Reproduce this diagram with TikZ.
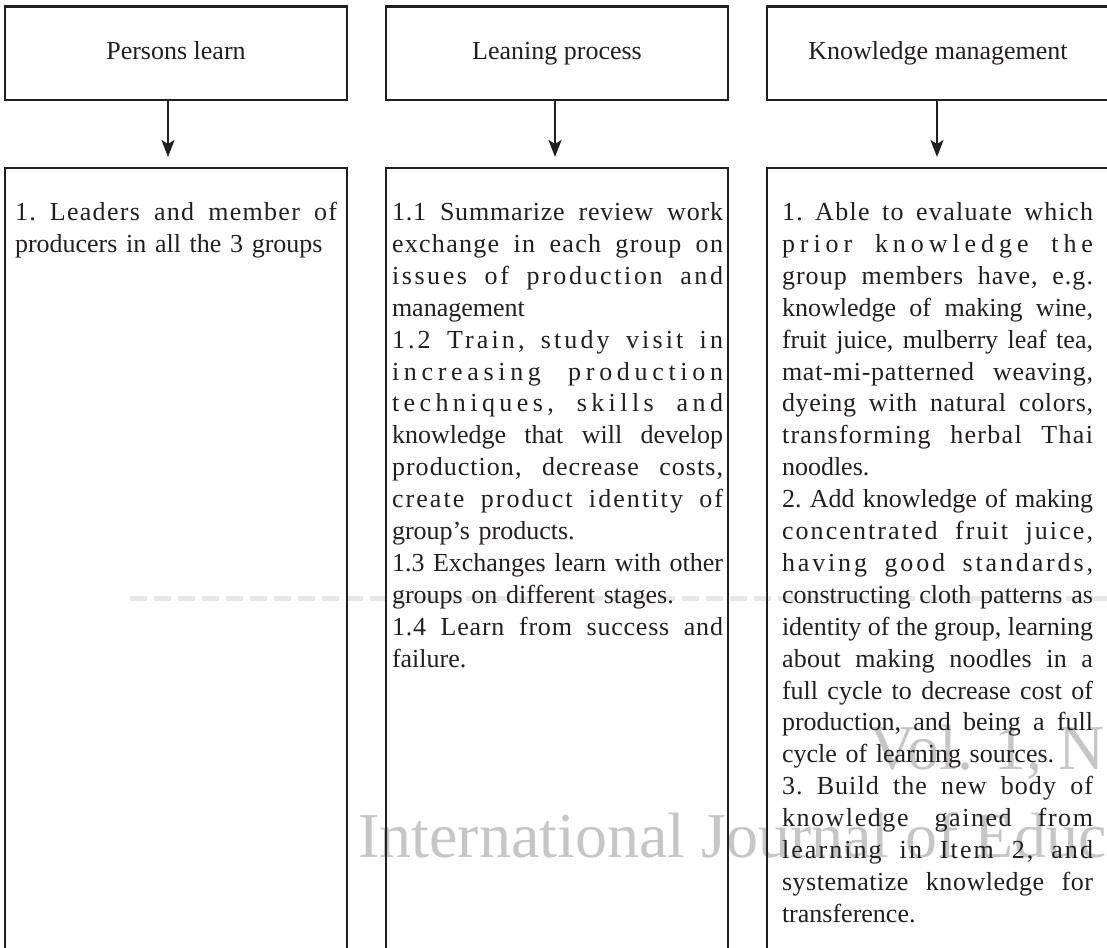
\documentclass[tikz,border=0pt]{standalone}
\usepackage{fontspec}
\setmainfont{Liberation Serif}
\usetikzlibrary{arrows.meta}
\definecolor{ink}{HTML}{231F20}
\definecolor{wm}{HTML}{C6C6C6}
\definecolor{wmline}{HTML}{E6E6E6}
\newcommand\jl[2]{\leavevmode\hbox to \hsize{\addfontfeature{LetterSpace=#1}\spaceskip=.25em plus 10em minus .05em\relax #2}}
\tikzset{
  frame/.style={draw=ink, line width=2.6pt, rectangle, inner sep=0pt, outer sep=0pt, minimum width=342pt},
  hdr/.style={frame, minimum height=93.5pt, font=\fontsize{26}{31.9}\selectfont, text=ink, text height=18pt, text depth=6pt},
  col/.style={frame, minimum height=822pt},
  txt/.style={inner sep=0pt, outer sep=0pt, anchor=north west, align=left, text=ink, font=\fontsize{26}{31.9}\selectfont\frenchspacing},
  arr/.style={draw=ink, line width=2.5pt, -{Stealth[length=17pt, width=13pt, inset=4pt]}, shorten >=11pt},
  wmark/.style={inner sep=0pt, anchor=base west, text=wm, font=\fontsize{64}{70}\selectfont},
}
\begin{document}
\begin{tikzpicture}[x=1pt, y=-1pt]
\useasboundingbox (0,0) rectangle (1107,947);
\clip (0,0) rectangle (1107,947);
\fill[white] (0,0) rectangle (1107,947);
% faint watermark marks
\draw[wmline, line width=5pt, dash pattern=on 17pt off 7pt] (130,598) -- (1107,598);
\node[wmark] (wm1) at (358,857) {International Journal of Educ};
\node[wmark] (wm2) at (869,769) {Vol. 1, N};
% header boxes
\node[hdr] (h1) at (176,53.25) {Persons learn};
\node[hdr] (h2) at (557,53.25) {Leaning process};
\node[hdr] (h3) at (938,53.25) {Knowledge management};
% column boxes
\node[col] (b1) at (176,579) {};
\node[col] (b2) at (557,579) {};
\node[col] (b3) at (938,579) {};
% arrows
\draw[arr] ([xshift=-8pt]h1.south) -- ([xshift=-8pt]b1.north);
\draw[arr] ([xshift=-2pt]h2.south) -- ([xshift=-2pt]b2.north);
\draw[arr] ([xshift=-1pt]h3.south) -- ([xshift=-1pt]b3.north);
% column texts
\node[txt, text width=322pt] (t1) at (15,200.5) {\parindent0pt%
\rule{0pt}{20pt}\jl{5}{1. Leaders and member of}\\
producers in all the 3 groups};
\node[txt, text width=331pt] (t2) at (392,200.5) {\parindent0pt%
\rule{0pt}{20pt}\jl{3}{1.1 Summarize review work}\\
\jl{5}{exchange in each group on}\\
\jl{10}{issues of production and}\\
management\\
\jl{12}{1.2 Train, study visit in}\\
\jl{18}{increasing production}\\
\jl{17}{techniques, skills and}\\
\jl{0}{knowledge that will develop}\\
\jl{4}{production, decrease costs,}\\
\jl{8}{create product identity of}\\
group’s products.\\
\jl{0}{1.3 Exchanges learn with other}\\
groups on different stages.\\
\jl{3}{1.4 Learn from success and}\\
failure.};
\node[txt, text width=311pt] (t3) at (782,200.5) {\parindent0pt%
\rule{0pt}{20pt}\jl{5}{1. Able to evaluate which}\\
\jl{19}{prior knowledge the}\\
\jl{4}{group members have, e.g.}\\
\jl{0}{knowledge of making wine,}\\
\jl{0}{fruit juice, mulberry leaf tea,}\\
\jl{3}{mat-mi-patterned weaving,}\\
\jl{2.5}{dyeing with natural colors,}\\
\jl{5}{transforming herbal Thai}\\
noodles.\\
\jl{0}{2. Add knowledge of making}\\
\jl{8}{concentrated fruit juice,}\\
\jl{11}{having good standards,}\\
\jl{0}{constructing cloth patterns as}\\
\jl{0}{identity of the group, learning}\\
\jl{1}{about making noodles in a}\\
\jl{0}{full cycle to decrease cost of}\\
\jl{0}{production, and being a full}\\
cycle of learning sources.\\
\jl{4}{3. Build the new body of}\\
\jl{6}{knowledge gained from}\\
\jl{8}{learning in Item 2, and}\\
\jl{2}{systematize knowledge for}\\
transference.};
\end{tikzpicture}
\end{document}
